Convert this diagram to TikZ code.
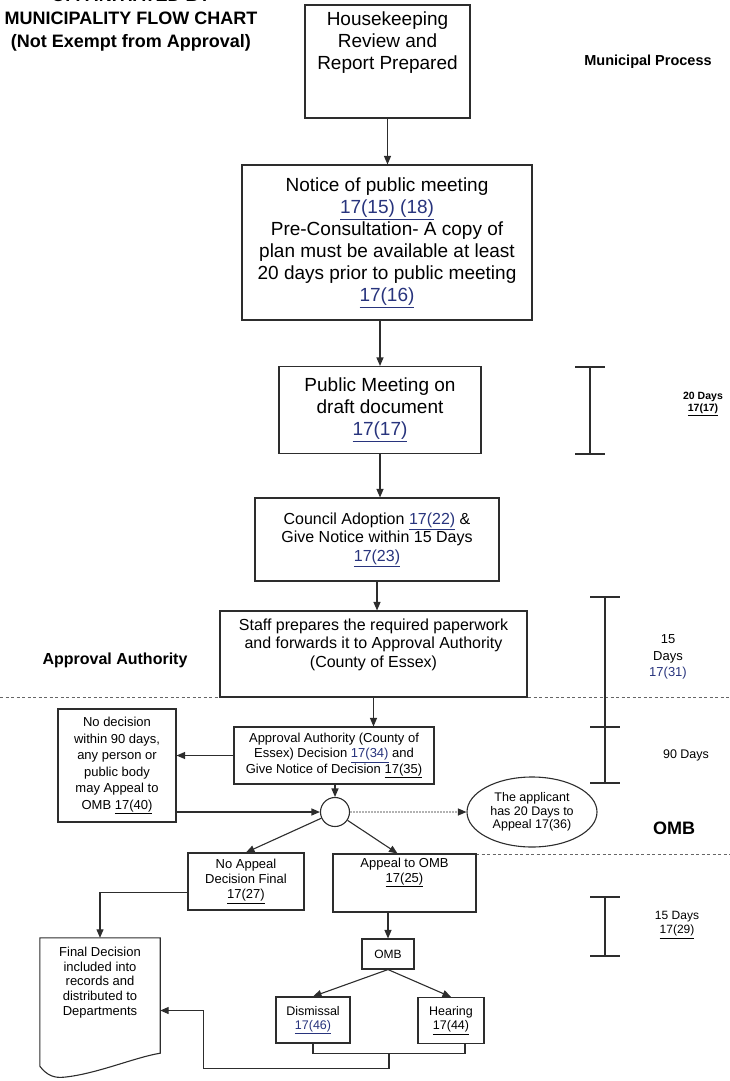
\documentclass[tikz,border=0pt]{standalone}
\usepackage{fontspec}
\setmainfont{Liberation Sans}
\usetikzlibrary{arrows.meta,calc,shapes.geometric}
\definecolor{linkblue}{RGB}{40,52,125}
\definecolor{inkgray}{RGB}{45,45,45}
\tikzset{
  box/.style   ={draw=inkgray, line width=1.1pt, fill=white, align=center, inner sep=2pt},
  big/.style   ={box, font=\fontsize{19}{22}\selectfont},
  mid/.style   ={box, font=\fontsize{16}{18.5}\selectfont},
  small/.style ={box, font=\fontsize{13}{15.5}\selectfont},
  lbl/.style   ={font=\bfseries\fontsize{16}{18}\selectfont},
  days/.style  ={font=\fontsize{12}{14}\selectfont, align=center},
  fl/.style    ={-{Triangle[length=8.5pt,width=7pt]}, line width=1.1pt, draw=inkgray},
  sep/.style   ={dash pattern=on 3pt off 2.5pt, line width=1pt, draw=black!60},
  span/.style  ={line width=1.1pt, draw=inkgray},
}
\newcommand{\lnk}[1]{\textcolor{linkblue}{\underline{#1}}}
\newcommand{\uref}[1]{\underline{#1}}
\newcommand{\padbelow}[1]{\rule[-#1]{0pt}{#1}}

\begin{document}
\begin{tikzpicture}[x=1pt, y=-1pt]
  \useasboundingbox (0,0) rectangle (730,1081);
  \clip (0,0) rectangle (730,1081);

  \node[font=\bfseries\fontsize{18}{23}\selectfont, align=center] (title) at (131,20)
        {OPA INITIATED BY\\MUNICIPALITY FLOW CHART\\(Not Exempt from Approval)};
  \node[lbl, font=\bfseries\fontsize{14.5}{16}\selectfont] (mp) at (648,62) {Municipal Process};
  \node[lbl] (aalbl) at (115,660) {Approval Authority};
  \node[lbl, font=\bfseries\fontsize{18}{20}\selectfont] (omblbl) at (674,828) {OMB};

  % separators between the three stages
  \draw[sep] (0,697) -- (730,697);
  \draw[sep] (476,854) -- (730,854);

  % municipal column
  \node[big, minimum width=165pt, minimum height=113pt] (hk) at (387.5,61.5)
        {Housekeeping\\Review and\\Report Prepared\padbelow{41pt}};
  \node[big, minimum width=290pt, minimum height=155pt] (notice) at (387,242.5)
        {Notice of public meeting\\\lnk{17(15) (18)}\\Pre-Consultation- A copy of\\
         plan must be available at least\\20 days prior to public meeting\\\lnk{17(16)}};
  \node[big, minimum width=202pt, minimum height=87pt] (public) at (380,410)
        {Public Meeting on\\draft document\\\lnk{17(17)}};
  \node[mid, minimum width=244pt, minimum height=83pt] (council) at (377,539.5)
        {Council Adoption \lnk{17(22)} \&\\Give Notice within 15 Days\\\lnk{17(23)}};
  \node[mid, minimum width=307pt, minimum height=86pt] (staff) at (373.5,654)
        {Staff prepares the required paperwork\\and forwards it to Approval Authority\\
         (County of Essex)\padbelow{22pt}};

  % approval authority
  \node[small, minimum width=200pt, minimum height=57pt] (aa) at (334,755.5)
        {Approval Authority (County of\\Essex) Decision \lnk{17(34)} and\\
         Give Notice of Decision \uref{17(35)}};
  \node[small, font=\fontsize{13}{16.5}\selectfont, minimum width=118pt, minimum height=113pt]
        (nodec) at (117,765.5)
        {No decision\\within 90 days,\\any person or\\public body\\may Appeal to\\OMB \uref{17(40)}};
  \node[draw=inkgray, line width=1.1pt, circle, minimum size=29pt, inner sep=0pt] (circ) at (335,812) {};
  \node[box, ellipse, font=\fontsize{12.5}{13.5}\selectfont, minimum width=130pt,
        minimum height=70pt, inner sep=0pt] (ell) at (532,812)
        {The applicant\\has 20 Days to\\Appeal 17(36)};

  % OMB stage
  \node[small, font=\fontsize{13}{15}\selectfont, minimum width=116pt, minimum height=57pt]
        (noappeal) at (246,881.5) {No Appeal\\Decision Final\\\uref{17(27)}};
  \node[small, font=\fontsize{13}{15}\selectfont, minimum width=143pt, minimum height=58pt]
        (appomb) at (404.5,883) {Appeal to OMB\\\uref{17(25)}\padbelow{26pt}};
  \node[small, font=\fontsize{12}{14}\selectfont, minimum width=52pt, minimum height=30pt]
        (omb) at (388,954) {OMB};
  \node[small, font=\fontsize{12.5}{14}\selectfont, minimum width=74pt, minimum height=46pt]
        (dism) at (313,1020) {Dismissal\\\lnk{17(46)}};
  \node[small, font=\fontsize{12.5}{14}\selectfont, minimum width=66pt, minimum height=46pt]
        (hear) at (451,1020.5) {Hearing\\\uref{17(44)}};
  \node[font=\fontsize{13}{14.75}\selectfont, align=center, minimum width=120pt,
        minimum height=89pt, inner sep=0pt] (final) at (100,982.5)
        {Final Decision\\included into\\records and\\distributed to\\Departments};
  \draw[span] (final.north west) -- ($(final.south west)+(0,39)$)
        .. controls +(7,9) and +(-10,1) .. ($(final.south west)+(24,50)$)
        .. controls +(32,-3) and +(-25,4) .. ($(final.south east)+(0,26)$)
        -- (final.north east) -- cycle;

  % time spans
  \draw[span] (575,367) -- (605,367) (590,367) -- (590,454) (575,454) -- (605,454);
  \node[days, font=\bfseries\fontsize{10.5}{12.5}\selectfont] (d20) at (703,404) {20 Days\\\uref{17(17)}};
  \draw[span] (590,597) -- (620,597) (605,597) -- (605,783) (590,727) -- (620,727)
              (590,783) -- (620,783);
  \node[days, font=\fontsize{13}{16.5}\selectfont] (d15) at (668,657)
        {15\\Days\\\textcolor{linkblue}{17(31)}};
  \node[days, font=\fontsize{12.5}{14}\selectfont] (d90) at (686,755) {90 Days};
  \draw[span] (590,897) -- (620,897) (605,897) -- (605,956) (590,956) -- (620,956);
  \node[days] (d15b) at (677,925) {15 Days\\\uref{17(29)}};

  % connectors
  \draw[fl] (hk.south) -- (hk.south |- notice.north);
  \draw[fl] (public.north |- notice.south) -- (public.north);
  \draw[fl] (public.south) -- (public.south |- council.north);
  \draw[fl] (council.south) -- (council.south |- staff.north);
  \draw[fl] (staff.south) -- (staff.south |- aa.north);
  \draw[fl] (aa.west) -- (aa.west -| nodec.east);
  \draw[fl] (aa.south -| circ.north) -- (circ.north);
  \draw[fl] (nodec.east |- circ.west) -- (circ.west);
  \draw[fl, draw=black!30, dash pattern=on 2pt off 1pt,
        -{Triangle[length=8.5pt,width=7pt,color=inkgray]}] (circ.east) -- (ell.west);
  \draw[fl] (circ) -- (noappeal.north);
  \draw[fl] (circ) -- ([xshift=-7pt]appomb.north);
  \draw[fl] ([yshift=-11pt]noappeal.west) -| (final.north);
  \draw[fl] (omb.north |- appomb.south) -- (omb.north);
  \draw[fl] (omb.south) -- (dism.north);
  \draw[fl] (omb.south) -- (hear.north);
  \draw[span] (dism.south) -- ++(0,10) -| ([xshift=14pt]hear.south);
  \coordinate (jn) at ($(dism.south)!0.5!([xshift=14pt]hear.south)+(0,10)$);
  \draw[fl] (jn) -- ++(0,15) -| ([xshift=43pt,yshift=-28pt]final.east)
        -- ([yshift=-28pt]final.east);
\end{tikzpicture}
\end{document}
